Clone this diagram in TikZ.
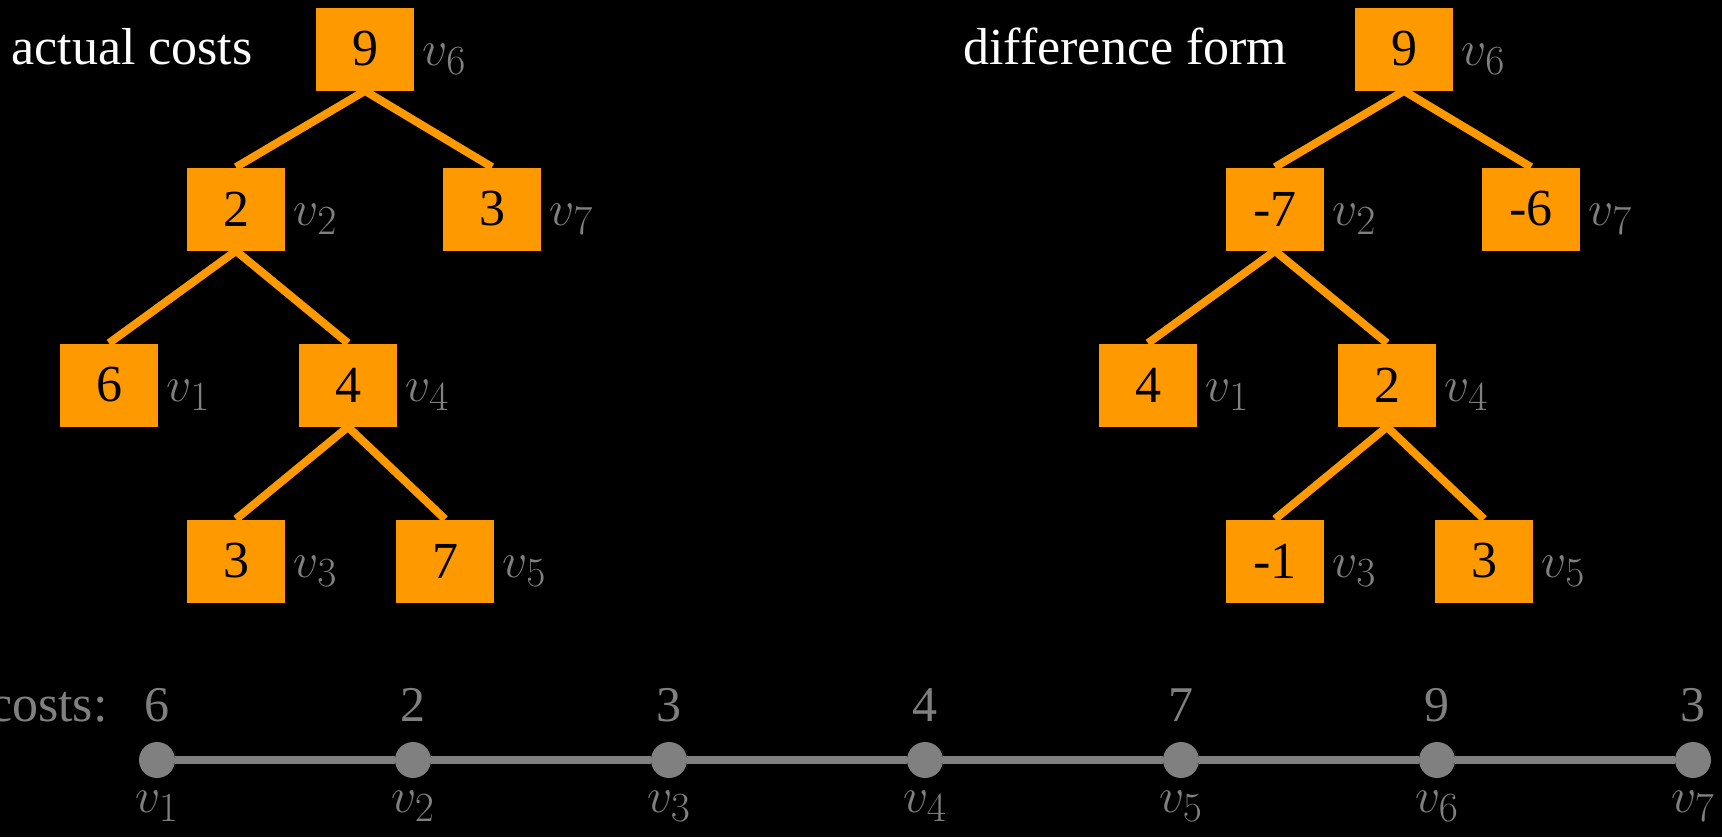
\documentclass[tikz,border=0pt]{standalone}
\usepackage{fontspec}
\setmainfont{Liberation Serif}
\usetikzlibrary{calc}
\definecolor{orng}{RGB}{255,153,0}
\definecolor{gry}{RGB}{128,128,128}
\begin{document}
\begin{tikzpicture}[x=0.5pt,y=-0.5pt,
  box/.style={fill=orng, minimum width=49pt, minimum height=41.5pt, inner sep=0pt, text=black, font=\fontsize{26}{30}\selectfont},
  edge/.style={draw=orng, line width=4pt},
  lab/.style={text=gry, anchor=base west, inner sep=0pt, font=\fontsize{28}{30}\selectfont},
  ttl/.style={text=white, anchor=base west, inner sep=0pt, font=\fontsize{26}{30}\selectfont},
  dot/.style={circle, fill=gry, minimum size=18pt, inner sep=0pt},
  gline/.style={draw=gry, line width=3.9pt},
  val/.style={text=gry, anchor=base, inner sep=0pt, font=\fontsize{25}{28}\selectfont},
  vl/.style={text=gry, anchor=base, inner sep=0pt, font=\fontsize{29}{30}\selectfont}]
\fill[black] (0,0) rectangle (1722,837);
\useasboundingbox (0,0) rectangle (1722,837);
% titles
\node[ttl] (t1) at (11,64) {actual costs};
\node[ttl] (t2) at (963,64) {difference form};
% left tree
\node[box] (a6) at (365,49) {9};
\node[box] (a2) at (236,209) {2};
\node[box] (a7) at (492,209) {3};
\node[box] (a1) at (109,385) {6};
\node[box] (a4) at (348,385) {4};
\node[box] (a3) at (236,561) {3};
\node[box] (a5) at (445,561) {7};
% right tree
\node[box] (b6) at (1404,49) {9};
\node[box] (b2) at (1275,209) {-7};
\node[box] (b7) at (1531,209) {-6};
\node[box] (b1) at (1148,385) {4};
\node[box] (b4) at (1387,385) {2};
\node[box] (b3) at (1275,561) {-1};
\node[box] (b5) at (1484,561) {3};
% edges
\foreach \t in {a,b}{
  \draw[edge] (\t6.south) -- (\t2.north);
  \draw[edge] (\t6.south) -- (\t7.north);
  \draw[edge] (\t2.south) -- (\t1.north);
  \draw[edge] (\t2.south) -- (\t4.north);
  \draw[edge] (\t4.south) -- (\t3.north);
  \draw[edge] (\t4.south) -- (\t5.north);
  \foreach \k in {1,...,7}{
    \node[lab] (\t\k l) at ($(\t\k.east)+(8,16)$) {$v_{\k}$};
  }
}
% bottom line
\node[val, anchor=base east, font=\fontsize{26}{30}\selectfont] (cl) at (108,721) {costs:};
\foreach \i/\c in {1/6,2/2,3/3,4/4,5/7,6/9,7/3}{
  \node[dot] (d\i) at ({157+256*(\i-1)},760) {};
  \node[val] (c\i) at ({157+256*(\i-1)},721) {\c};
  \node[vl] (w\i) at ({157+256*(\i-1)},812) {$v_{\i}$};
}
\foreach \i [evaluate=\i as \j using int(\i+1)] in {1,...,6}{
  \draw[gline] (d\i) -- (d\j);
}
\end{tikzpicture}
\end{document}
